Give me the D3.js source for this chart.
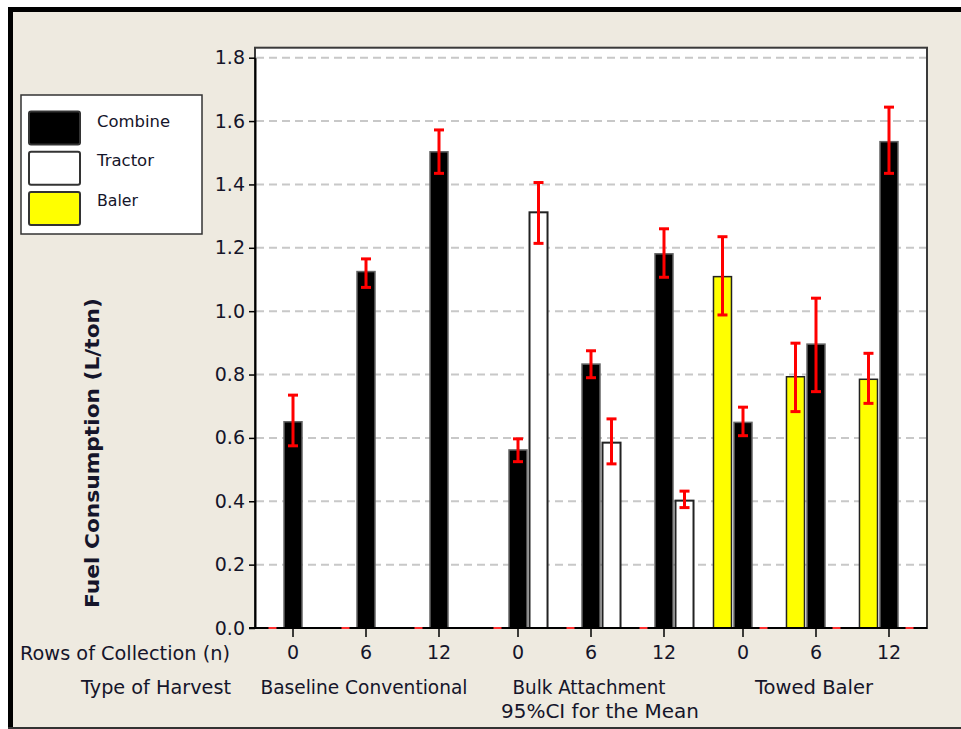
<!DOCTYPE html>
<html><head><meta charset="utf-8">
<script src="https://cdn.jsdelivr.net/npm/d3@7"></script>
<style>
body{margin:0;background:#fff}
svg{display:block}
text{font-family:"DejaVu Sans",Verdana,sans-serif;fill:#15152a}
</style>
</head><body>
<svg id="chart" width="961" height="729"></svg>
<script>
// ---------- data ----------
const groups = ["Baseline Conventional", "Bulk Attachment", "Towed Baler"];
const rows = ["0", "6", "12"];
const seriesNames = ["Combine", "Tractor", "Baler"];
const slotOrder = ["Baler", "Combine", "Tractor"];
const seriesFill = ["#000000", "#ffffff", "#ffff00"];

// order: Baseline 0,6,12 | Bulk 0,6,12 | Towed 0,6,12
const combineMean = [0.651, 1.125, 1.503, 0.562, 0.833, 1.181, 0.649, 0.896, 1.535];
const combineLo   = [0.575, 1.075, 1.435, 0.525, 0.790, 1.107, 0.607, 0.746, 1.435];
const combineHi   = [0.735, 1.165, 1.572, 0.597, 0.875, 1.260, 0.697, 1.041, 1.644];

const tractorMean = [null, null, null, 1.312, 0.585, 0.402, 0, 0, 0];
const tractorLo   = [null, null, null, 1.214, 0.518, 0.380, 0, 0, 0];
const tractorHi   = [null, null, null, 1.406, 0.660, 0.432, 0, 0, 0];

const balerMean = [0, 0, 0, 0, 0, 0, 1.109, 0.793, 0.785];
const balerLo   = [0, 0, 0, 0, 0, 0, 0.988, 0.683, 0.709];
const balerHi   = [0, 0, 0, 0, 0, 0, 1.235, 0.899, 0.867];

const yTicks = [0, 0.2, 0.4, 0.6, 0.8, 1.0, 1.2, 1.4, 1.6, 1.8];

const rowAxisTitle = "Rows of Collection (n)";
const groupAxisTitle = "Type of Harvest";
const ciNote = "95%CI for the Mean";
const yTitle = "Fuel Consumption (L/ton)";

// ---------- build ----------
const seriesData = {
  Combine: {mean: combineMean, lo: combineLo, hi: combineHi},
  Tractor: {mean: tractorMean, lo: tractorLo, hi: tractorHi},
  Baler:   {mean: balerMean,   lo: balerLo,   hi: balerHi}
};
const cats = [];
groups.forEach(g => rows.forEach(r => cats.push({g, r})));
const items = [];
seriesNames.forEach((s, si) => {
  cats.forEach((c, i) => {
    const m = seriesData[s].mean[i];
    if (m === null) return;
    items.push({s, si, g: c.g, r: c.r, mean: m, lo: seriesData[s].lo[i], hi: seriesData[s].hi[i]});
  });
});

const svg = d3.select("#chart");
const W = 961, H = 729;
const P = {l: 255, r: 927, t: 47.7, b: 628};

const y = d3.scaleLinear().domain([0, 1.8]).range([628, 57.7]);
const xg = d3.scaleBand().domain(groups).range([P.l, P.r]).paddingInner(0.0267).paddingOuter(0.0067);
const xr = d3.scaleBand().domain(rows).range([0, xg.bandwidth()]);
const xs = d3.scaleBand().domain(slotOrder).range([0, xr.bandwidth()]).paddingInner(0.122).paddingOuter(0.34);
const cx = (g, r) => xg(g) + xr(r) + xr.bandwidth() / 2;

function fit(sel, w) { sel.attr("textLength", w).attr("lengthAdjust", "spacingAndGlyphs"); return sel; }

// frame
svg.append("rect").attr("x", 0).attr("y", 0).attr("width", W).attr("height", H).attr("fill", "#ffffff");
svg.append("rect").attr("x", 8).attr("y", 7).attr("width", W - 8).attr("height", H - 7).attr("fill", "#eeeae0");
svg.append("rect").attr("x", 8).attr("y", 7).attr("width", W - 8).attr("height", 5).attr("fill", "#000");
svg.append("rect").attr("x", 8).attr("y", 7).attr("width", 5).attr("height", H - 7).attr("fill", "#000");
svg.append("rect").attr("x", 8).attr("y", H - 2).attr("width", W - 8).attr("height", 2).attr("fill", "#333");

// plot area
svg.append("rect").attr("x", P.l).attr("y", P.t).attr("width", P.r - P.l).attr("height", P.b - P.t)
  .attr("fill", "#fff").attr("stroke", "#3a3a3a").attr("stroke-width", 2);

// grid
svg.append("g").selectAll("line").data(yTicks.filter(d => d > 0)).join("line")
  .attr("x1", P.l + 1).attr("x2", P.r - 1)
  .attr("y1", d => y(d)).attr("y2", d => y(d))
  .attr("stroke", "#c8c8c8").attr("stroke-width", 2).attr("stroke-dasharray", "8,5");

// bars
svg.append("g").selectAll("rect").data(items.filter(d => d.mean > 0)).join("rect")
  .attr("x", d => xg(d.g) + xr(d.r) + xs(d.s))
  .attr("width", xs.bandwidth())
  .attr("y", d => y(d.mean))
  .attr("height", d => y(0) - y(d.mean))
  .attr("fill", d => seriesFill[d.si])
  .attr("stroke", d => d.s === "Combine" ? "#666" : "#222")
  .attr("stroke-width", d => d.s === "Tractor" ? 2 : 1.5);

// y axis
const yAx = svg.append("g").attr("transform", `translate(${P.l},0)`)
  .call(d3.axisLeft(y).tickValues(yTicks).tickFormat(d3.format(".1f")).tickSize(6).tickSizeOuter(0).tickPadding(4));
yAx.select(".domain").attr("stroke", "#000").attr("stroke-width", 2);
yAx.selectAll(".tick line").attr("stroke", "#000").attr("stroke-width", 1.5);
yAx.selectAll(".tick text").attr("font-size", 19).attr("font-family", "DejaVu Sans").attr("fill", "#15152a");

// x axis (per group)
svg.append("line").attr("x1", P.l - 6).attr("x2", P.r).attr("y1", P.b).attr("y2", P.b)
  .attr("stroke", "#000").attr("stroke-width", 2);
groups.forEach(g => {
  const ax = svg.append("g").attr("transform", `translate(${xg(g)},${P.b})`)
    .call(d3.axisBottom(xr).tickSize(9).tickSizeOuter(0).tickPadding(9));
  ax.select(".domain").remove();
  ax.selectAll(".tick line").attr("stroke", "#000").attr("stroke-width", 1.5);
  ax.selectAll(".tick text").attr("font-size", 19).attr("font-family", "DejaVu Sans").attr("fill", "#15152a");
});

// error bars
const eb = svg.append("g").attr("stroke", "#ff0000").attr("stroke-width", 3).attr("fill", "none");
const cap = 5;
items.forEach(d => {
  const x = xg(d.g) + xr(d.r) + xs(d.s) + xs.bandwidth() / 2;
  if (d.hi - d.lo > 0) {
    eb.append("line").attr("x1", x).attr("x2", x).attr("y1", y(d.lo)).attr("y2", y(d.hi));
    eb.append("line").attr("x1", x - cap).attr("x2", x + cap).attr("y1", y(d.hi)).attr("y2", y(d.hi));
    eb.append("line").attr("x1", x - cap).attr("x2", x + cap).attr("y1", y(d.lo)).attr("y2", y(d.lo));
  } else {
    eb.append("line").attr("x1", x - 4).attr("x2", x + 4).attr("y1", y(d.mean)).attr("y2", y(d.mean))
      .attr("stroke-width", 2).attr("stroke", "#ff3030");
  }
});

// axis labels
fit(svg.append("text").attr("x", 230).attr("y", 653).attr("text-anchor", "end")
  .attr("dominant-baseline", "central").attr("font-size", 19).text(rowAxisTitle), 210).attr("x", 20).attr("text-anchor", "start");
fit(svg.append("text").attr("x", 81).attr("y", 687).attr("text-anchor", "start")
  .attr("dominant-baseline", "central").attr("font-size", 19).text(groupAxisTitle), 150);
const groupWidths = [207, 153, 118];
groups.forEach((g, i) => {
  const t = svg.append("text").attr("x", cx(g, rows[1]) - 2).attr("y", 687).attr("text-anchor", "middle")
    .attr("dominant-baseline", "central").attr("font-size", 19).text(g);
  fit(t, groupWidths[i]);
});
fit(svg.append("text").attr("x", cx(groups[1], rows[1]) + 9).attr("y", 711).attr("text-anchor", "middle")
  .attr("dominant-baseline", "central").attr("font-size", 19).text(ciNote), 198);

// y title
fit(svg.append("text").attr("transform", "translate(92,453) rotate(-90)")
  .attr("text-anchor", "middle").attr("dominant-baseline", "central")
  .attr("font-size", 19).attr("font-weight", "bold").attr("fill", "#000").text(yTitle), 310);

// legend
const lg = svg.append("g");
lg.append("rect").attr("x", 21).attr("y", 95).attr("width", 181).attr("height", 139)
  .attr("fill", "#fff").attr("stroke", "#333").attr("stroke-width", 1.5);
const legendWidths = [73, 57, 41];
seriesNames.forEach((s, i) => {
  lg.append("rect").attr("x", 29).attr("y", 111.5 + i * 40.3).attr("width", 51).attr("height", 33)
    .attr("rx", 2).attr("fill", seriesFill[i]).attr("stroke", "#333").attr("stroke-width", 2);
  fit(lg.append("text").attr("x", 97).attr("y", 121 + i * 39.5).attr("dominant-baseline", "central")
    .attr("font-size", 16).attr("fill", "#111").text(s), legendWidths[i]);
});
</script>
</body></html>
